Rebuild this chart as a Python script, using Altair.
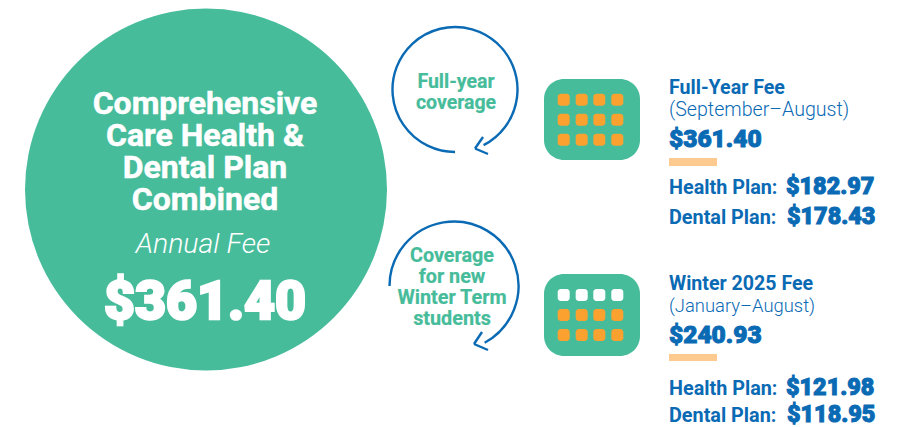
import altair as alt
import pandas as pd

GREEN = "#46bc9b"
BLUE = "#0a6ab4"
ORANGE = "#fba12f"
PEACH = "#fdca8f"
FONT = "Roboto"

title_lines = ["Comprehensive", "Care Health &", "Dental Plan", "Combined"]
total_fee = "$361.40"
winter_fee = "$240.93"
full_parts = ["$182.97", "$178.43"]
winter_parts = ["$121.98", "$118.95"]

X = alt.Scale(domain=[8, 906], range=[0, 898])
Y = alt.Scale(domain=[8, 419], range=[0, 411])
def xe(f="x"): return alt.X(f"{f}:Q", scale=X, axis=None)
def ye(f="y"): return alt.Y(f"{f}:Q", scale=Y, axis=None)

def text_layer(rows, size, color, weight="normal", align="left", style="normal", sw=0):
    df = pd.DataFrame(rows, columns=["t", "x", "y"])
    df["y"] = df["y"] + 1
    kw = dict(stroke=color, strokeWidth=sw) if sw else {}
    return alt.Chart(df).mark_text(font=FONT, fontSize=size, color=color, fontWeight=weight,
                                   align=align, baseline="alphabetic", fontStyle=style, **kw
                                   ).encode(x=xe(), y=ye(), text="t:N")

def rects(rows, color, corner):
    df = pd.DataFrame(rows, columns=["x", "x2", "y", "y2"])
    return alt.Chart(df).mark_rect(color=color, cornerRadius=corner).encode(
        x=xe(), x2="x2:Q", y=ye(), y2="y2:Q")

def arc(cx, cy, r, t0, t1):
    df = pd.DataFrame({"x": [cx], "y": [cy]})
    return alt.Chart(df).mark_arc(radius=r, radius2=r, theta=t0, theta2=t1, stroke=BLUE,
                                  strokeWidth=2.4, fillOpacity=0, strokeCap="butt").encode(x=xe(), y=ye())

def arrow(rows):
    df = pd.DataFrame(rows, columns=["x", "y", "x2", "y2"])
    return alt.Chart(df).mark_rule(color=BLUE, strokeWidth=2.4).encode(x=xe(), y=ye(), x2="x2:Q", y2="y2:Q")

col_x = [563.7, 581.7, 599.3, 617.3]
def cells(rows_y):
    return [(x - 6, x + 6, y - 6, y + 6) for y in rows_y for x in col_x]

big = alt.Chart(pd.DataFrame({"x": [206], "y": [189.5]})).mark_point(
    shape="circle", filled=True, color=GREEN, opacity=1, size=362 ** 2).encode(x=xe(), y=ye())

layers = [
    big,
    text_layer([(t, 205, y) for t, y in zip(title_lines, [113, 145, 177, 209])], 32, "white", "bold", "center", sw=0.5),
    text_layer([("Annual Fee", 203, 252)], 28.5, "white", 300, "center", "italic"),
    text_layer([(total_fee, 205, 318)], 53.5, "white", 900, "center", sw=2.5),
    arc(455, 89.5, 62.5, 3.1416, 8.95),
    arrow([(475, 148.5, 483, 137), (475, 148.5, 488, 154)]),
    arc(454, 286, 64.5, 4.7124, 8.93),
    arrow([(474, 344, 482, 332), (474, 344, 488, 350)]),
    text_layer([("Full-year", 456, 87), ("coverage", 456, 108)], 19.5, GREEN, "bold", "center", sw=0.2),
    text_layer([("Coverage", 452, 261), ("for new", 452, 282), ("Winter Term", 452, 303), ("students", 452, 324)],
               19.8, GREEN, "bold", "center", sw=0.2),
    rects([(544, 640, 79, 160), (544, 640, 274, 356)], GREEN, 20),
    rects(cells([99.7, 119.7, 139.7]) + cells([315, 335]), ORANGE, 3),
    rects(cells([295]), "white", 3),
    rects([(669, 717, 158, 166), (669, 717, 354, 361)], PEACH, 0),
    text_layer([("Full-Year Fee", 669, 93), ("Winter 2025 Fee", 669, 289)], 19.6, BLUE, "bold"),
    text_layer([("(September–August)", 669, 115)], 19.6, BLUE, 300),
    text_layer([("(January–August)", 669, 311)], 18.4, BLUE, 300),
    text_layer([(total_fee, 669, 146), (winter_fee, 669, 342)], 24.5, BLUE, 900, sw=1),
    text_layer([("Health Plan:", 669, 193), ("Dental Plan:", 669, 223), ("Health Plan:", 669, 393.5), ("Dental Plan:", 669, 421)],
               19.8, BLUE, "bold"),
    text_layer([(full_parts[0], 786, 193), (full_parts[1], 787, 223), (winter_parts[0], 786, 394), (winter_parts[1], 787, 421)],
               23.4, BLUE, 900, sw=1),
]

chart = alt.layer(*layers).properties(width=898, height=411, padding=0).configure_view(stroke=None)
chart.save("out.html", embed_options={"renderer": "svg", "actions": False})
